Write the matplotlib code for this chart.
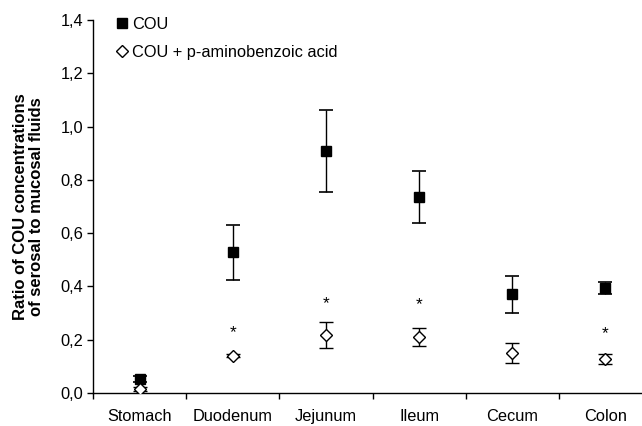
import matplotlib
matplotlib.use("Agg")
import matplotlib.pyplot as plt
from matplotlib.ticker import FixedLocator, FuncFormatter
import numpy as np

plt.rcParams['font.family'] = ['Liberation Sans', 'DejaVu Sans']

segments = ["Stomach", "Duodenum", "Jejunum", "Ileum", "Cecum", "Colon"]

cou_mean = [0.053, 0.528, 0.908, 0.735, 0.370, 0.395]
cou_err = [0.010, 0.102, 0.155, 0.097, 0.071, 0.022]

paba_mean = [0.014, 0.140, 0.218, 0.209, 0.149, 0.128]
paba_err = [0.008, 0.005, 0.048, 0.034, 0.038, 0.018]

# significance marks (asterisk height per segment, None = not significant)
sig_y = [None, 0.225, 0.337, 0.333, None, 0.221]

yticks = [0.0, 0.2, 0.4, 0.6, 0.8, 1.0, 1.2, 1.4]

fig = plt.figure(figsize=(6.42, 4.26), dpi=100)
# axis runs past the right edge of the picture, as in the original
ax = fig.add_axes([93 / 642, 1 - 393 / 426, 559 / 642, 373 / 426])

x = np.arange(len(segments))

ax.errorbar(x, cou_mean, yerr=cou_err, fmt='s', color='black', ms=7,
            ecolor='black', elinewidth=1, capsize=4.7, capthick=1.2,
            label='COU', zorder=3)
ax.errorbar(x, paba_mean, yerr=paba_err, fmt='D', color='black', ms=6.5,
            mfc='white', mec='black', mew=1, ecolor='black', elinewidth=1,
            capsize=4.7, capthick=1.2, label='COU + p-aminobenzoic acid', zorder=3)

for xi, yi in zip(x, sig_y):
    if yi is not None:
        ax.text(xi, yi, '*', ha='center', va='center', fontsize=12.5)

ax.set_xlim(-0.5, len(segments) - 0.5)
ax.set_ylim(0, 1.4)

ax.xaxis.set_major_locator(FixedLocator(np.arange(len(segments) + 1) - 0.5))
ax.xaxis.set_minor_locator(FixedLocator(x))
ax.set_xticklabels([])
ax.set_xticklabels(segments, minor=True)
ax.tick_params(axis='x', which='major', direction='out', length=4, width=1)
ax.tick_params(axis='x', which='minor', length=0, pad=20, labelsize=11.8)
for lab in ax.get_xticklabels(minor=True):
    lab.set_verticalalignment('baseline')

ax.set_yticks(yticks)
ax.yaxis.set_major_formatter(FuncFormatter(lambda v, p: f"{v:.1f}".replace('.', ',')))
ax.tick_params(axis='y', direction='out', length=4, width=1, labelsize=11.8, pad=3)

for s in ['top', 'right']:
    ax.spines[s].set_visible(False)
ax.spines['left'].set_linewidth(1)
ax.spines['bottom'].set_linewidth(1)

ax.set_ylabel("Ratio of COU concentrations\nof serosal to mucosal fluids",
              fontsize=12, fontweight='bold', labelpad=12, linespacing=1.1)

handles, labels = ax.get_legend_handles_labels()
handles = [h[0] for h in handles]
ax.legend(handles, labels, loc='upper left', bbox_to_anchor=(0.017, 1.04),
          frameon=False, fontsize=11.8, handletextpad=0.1, handlelength=1.0,
          labelspacing=0.8, borderaxespad=0.3)

fig.savefig("out.png", dpi=100)
